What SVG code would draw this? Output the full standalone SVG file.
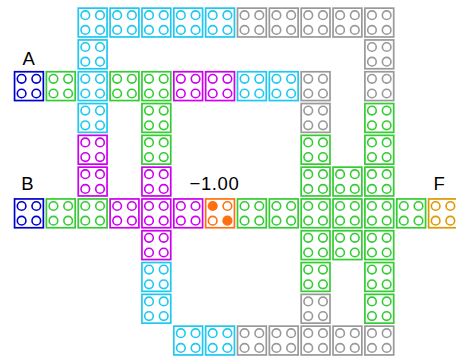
<svg xmlns="http://www.w3.org/2000/svg" xmlns:xlink="http://www.w3.org/1999/xlink" width="456" height="356" viewBox="0 0 456 356">
<style>
.cy{color:#1ec8f0}.gr{color:#999999}.gn{color:#33cc33}.mg{color:#cc00ee}.bl{color:#0000cc}.gd{color:#dd9900}.or{color:#ff7010}
.cell rect{fill:#fff;stroke:currentColor;stroke-width:1.7}
.cell circle{fill:none;stroke:currentColor;stroke-width:1.6}
.cell circle.f{fill:currentColor}
text{font-family:"Liberation Sans",Arial,sans-serif;font-size:18.5px;fill:#000}
</style>
<defs>
<g id="cell" class="cell">
<rect x="0.85" y="0.85" width="28.8" height="28.8"/>
<circle cx="7.9" cy="7.9" r="4.3"/><circle cx="22.6" cy="7.9" r="4.3"/>
<circle cx="7.9" cy="22.6" r="4.3"/><circle cx="22.6" cy="22.6" r="4.3"/>
</g>
</defs>
<rect width="456" height="356" fill="#fff"/>
<g id="connectors"></g>
<g id="nodes" transform="translate(13.7,7.3)">
<g id="r0c2"><use href="#cell" class="cy" x="63.7" y="0"/></g>
<g id="r0c3"><use href="#cell" class="cy" x="95.55" y="0"/></g>
<g id="r0c4"><use href="#cell" class="cy" x="127.4" y="0"/></g>
<g id="r0c5"><use href="#cell" class="cy" x="159.25" y="0"/></g>
<g id="r0c6"><use href="#cell" class="cy" x="191.1" y="0"/></g>
<g id="r0c7"><use href="#cell" class="gr" x="222.95" y="0"/></g>
<g id="r0c8"><use href="#cell" class="gr" x="254.8" y="0"/></g>
<g id="r0c9"><use href="#cell" class="gr" x="286.65" y="0"/></g>
<g id="r0c10"><use href="#cell" class="gr" x="318.5" y="0"/></g>
<g id="r0c11"><use href="#cell" class="gr" x="350.35" y="0"/></g>
<g id="r1c2"><use href="#cell" class="cy" x="63.7" y="31.8"/></g>
<g id="r1c11"><use href="#cell" class="gr" x="350.35" y="31.8"/></g>
<g id="A"><use href="#cell" class="bl" x="0" y="63.6"/></g>
<g id="r2c1"><use href="#cell" class="gn" x="31.85" y="63.6"/></g>
<g id="r2c2"><use href="#cell" class="cy" x="63.7" y="63.6"/></g>
<g id="r2c3"><use href="#cell" class="gn" x="95.55" y="63.6"/></g>
<g id="r2c4"><use href="#cell" class="gn" x="127.4" y="63.6"/></g>
<g id="r2c5"><use href="#cell" class="mg" x="159.25" y="63.6"/></g>
<g id="r2c6"><use href="#cell" class="mg" x="191.1" y="63.6"/></g>
<g id="r2c7"><use href="#cell" class="cy" x="222.95" y="63.6"/></g>
<g id="r2c8"><use href="#cell" class="cy" x="254.8" y="63.6"/></g>
<g id="r2c9"><use href="#cell" class="gr" x="286.65" y="63.6"/></g>
<g id="r2c11"><use href="#cell" class="gr" x="350.35" y="63.6"/></g>
<g id="r3c2"><use href="#cell" class="cy" x="63.7" y="95.4"/></g>
<g id="r3c4"><use href="#cell" class="gn" x="127.4" y="95.4"/></g>
<g id="r3c9"><use href="#cell" class="gr" x="286.65" y="95.4"/></g>
<g id="r3c11"><use href="#cell" class="gn" x="350.35" y="95.4"/></g>
<g id="r4c2"><use href="#cell" class="mg" x="63.7" y="127.2"/></g>
<g id="r4c4"><use href="#cell" class="gn" x="127.4" y="127.2"/></g>
<g id="r4c9"><use href="#cell" class="gn" x="286.65" y="127.2"/></g>
<g id="r4c11"><use href="#cell" class="gn" x="350.35" y="127.2"/></g>
<g id="r5c2"><use href="#cell" class="mg" x="63.7" y="159"/></g>
<g id="r5c4"><use href="#cell" class="mg" x="127.4" y="159"/></g>
<g id="r5c9"><use href="#cell" class="gn" x="286.65" y="159"/></g>
<g id="r5c10"><use href="#cell" class="gn" x="318.5" y="159"/></g>
<g id="r5c11"><use href="#cell" class="gn" x="350.35" y="159"/></g>
<g id="B"><use href="#cell" class="bl" x="0" y="190.8"/></g>
<g id="r6c1"><use href="#cell" class="gn" x="31.85" y="190.8"/></g>
<g id="r6c2"><use href="#cell" class="gn" x="63.7" y="190.8"/></g>
<g id="r6c3"><use href="#cell" class="mg" x="95.55" y="190.8"/></g>
<g id="r6c4"><use href="#cell" class="mg" x="127.4" y="190.8"/></g>
<g id="r6c5"><use href="#cell" class="mg" x="159.25" y="190.8"/></g>
<g id="r6c6" class="cell or" transform="translate(191.1,190.8)">
<rect x="0.85" y="0.85" width="28.8" height="28.8"/>
<circle class="f" cx="7.9" cy="7.9" r="4.3"/><circle cx="22.6" cy="7.9" r="4.3"/>
<circle cx="7.9" cy="22.6" r="4.3"/><circle class="f" cx="22.6" cy="22.6" r="4.3"/>
</g>
<g id="r6c7"><use href="#cell" class="gn" x="222.95" y="190.8"/></g>
<g id="r6c8"><use href="#cell" class="gn" x="254.8" y="190.8"/></g>
<g id="r6c9"><use href="#cell" class="gn" x="286.65" y="190.8"/></g>
<g id="r6c10"><use href="#cell" class="gn" x="318.5" y="190.8"/></g>
<g id="r6c11"><use href="#cell" class="gn" x="350.35" y="190.8"/></g>
<g id="r6c12"><use href="#cell" class="gn" x="382.2" y="190.8"/></g>
<g id="F"><use href="#cell" class="gd" x="414.05" y="190.8"/></g>
<g id="r7c4"><use href="#cell" class="mg" x="127.4" y="222.6"/></g>
<g id="r7c9"><use href="#cell" class="gn" x="286.65" y="222.6"/></g>
<g id="r7c10"><use href="#cell" class="gn" x="318.5" y="222.6"/></g>
<g id="r7c11"><use href="#cell" class="gn" x="350.35" y="222.6"/></g>
<g id="r8c4"><use href="#cell" class="cy" x="127.4" y="254.4"/></g>
<g id="r8c9"><use href="#cell" class="gn" x="286.65" y="254.4"/></g>
<g id="r8c11"><use href="#cell" class="gn" x="350.35" y="254.4"/></g>
<g id="r9c4"><use href="#cell" class="cy" x="127.4" y="286.2"/></g>
<g id="r9c9"><use href="#cell" class="gr" x="286.65" y="286.2"/></g>
<g id="r9c11"><use href="#cell" class="gn" x="350.35" y="286.2"/></g>
<g id="r10c5"><use href="#cell" class="cy" x="159.25" y="318"/></g>
<g id="r10c6"><use href="#cell" class="cy" x="191.1" y="318"/></g>
<g id="r10c7"><use href="#cell" class="gr" x="222.95" y="318"/></g>
<g id="r10c8"><use href="#cell" class="gr" x="254.8" y="318"/></g>
<g id="r10c9"><use href="#cell" class="gr" x="286.65" y="318"/></g>
<g id="r10c10"><use href="#cell" class="gr" x="318.5" y="318"/></g>
<g id="r10c11"><use href="#cell" class="gr" x="350.35" y="318"/></g>
</g>
<g id="labels">
<text x="22.5" y="65">A</text>
<text x="21.2" y="190">B</text>
<text x="189.5" y="190" letter-spacing="0.6">−1.00</text>
<text x="433.4" y="190">F</text>
</g>
</svg>
